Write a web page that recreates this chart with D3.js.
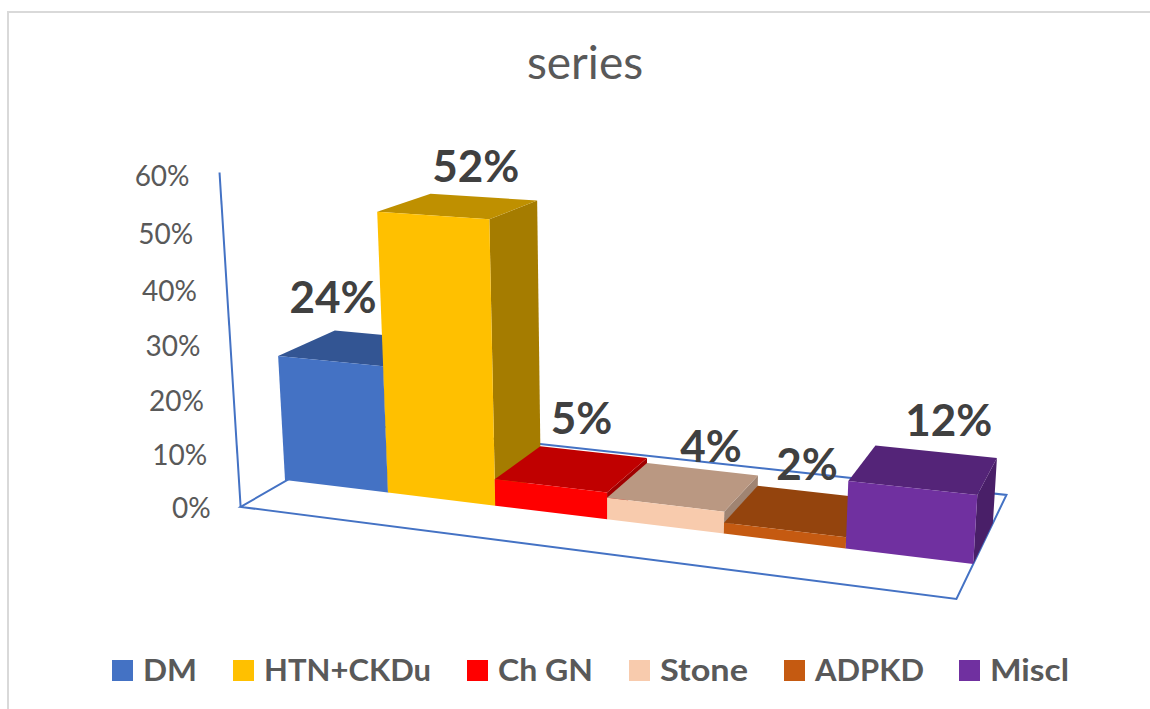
<!DOCTYPE html>
<html>
<head>
<meta charset="utf-8">
<script src="https://cdn.jsdelivr.net/npm/d3@7"></script>
<style>
  html, body { margin: 0; background: #fff; }
  svg { display: block; font-family: Lato, "Open Sans", sans-serif; }
</style>
</head>
<body>
<div id="chart"></div>
<script>
const categories = ['DM', 'HTN+CKDu', 'Ch GN', 'Stone', 'ADPKD', 'Miscl'];
const values = [0.24, 0.52, 0.05, 0.04, 0.02, 0.12];
const tickValues = [0, 0.1, 0.2, 0.3, 0.4, 0.5, 0.6];
const frontColors = ['#4472c4', '#ffc000', '#ff0000', '#f8cbad', '#c55a11', '#7030a0'];
const topColors = ['#335593', '#bf9000', '#c00000', '#ba9882', '#94440d', '#542478'];
const sideColors = ['#2b4a80', '#a57c00', '#a00000', '#a08472', '#7f3a0b', '#491f68'];

const width = 1150;
const height = 709;

const svg = d3.select('#chart').append('svg')
  .attr('width', width)
  .attr('height', height);

// the 3d box: category runs along u, depth along d, value along w
const uScale = d3.scaleBand().domain(categories).range([0, 6]);
const wScale = d3.scaleLinear().domain([0, 0.6]).range([0, 60]);
const floorFront = -0.76;
const floorBack = 1.77;
const floorLeft = 0.02;

// perspective projection, fitted by eye against the picture
function project(u, d, w) {
  const k = 1 - 0.02004 * u + 0.0581 * d - 0.00084 * w;
  return [
    (285 + 95.2 * u + 75 * d - 0.52 * w) / k,
    (480 + 2.7 * u - 5.6 * d - 5.47 * w) / k
  ];
}

const poly = d3.line();

// chart frame, only top and left are in the crop
svg.append('path')
  .attr('d', 'M8,' + height + 'V12H' + width)
  .attr('fill', 'none')
  .attr('stroke', '#d9d9d9')
  .attr('stroke-width', 2);

// title
svg.append('text')
  .attr('x', 585)
  .attr('y', 79)
  .attr('text-anchor', 'middle')
  .attr('font-size', 46)
  .attr('fill', '#595959')
  .text('series');

// floor and wall lines
const uMax = uScale.range()[1];
svg.append('path')
  .attr('d', poly([
    project(floorLeft, floorBack, 0),
    project(uMax, floorBack, 0),
    project(uMax, floorFront, 0),
    project(floorLeft, floorFront, 0),
    project(floorLeft, floorBack, 0)
  ]))
  .attr('fill', 'none')
  .attr('stroke', '#4472c4')
  .attr('stroke-width', 2);

svg.append('path')
  .attr('d', poly([
    project(floorLeft, floorFront, wScale(0)),
    project(floorLeft, floorFront, wScale(0.6))
  ]))
  .attr('fill', 'none')
  .attr('stroke', '#4472c4')
  .attr('stroke-width', 2);

// value tick labels follow the wall edge
svg.append('g')
  .selectAll('text')
  .data(tickValues)
  .join('text')
  .attr('x', (t) => project(floorLeft, floorFront, wScale(t))[0] - 30)
  .attr('y', (t) => project(floorLeft, floorFront, wScale(t))[1] + 11 + 2.5 * t / 0.6)
  .attr('text-anchor', 'end')
  .attr('font-size', 28)
  .attr('fill', '#595959')
  .text((t) => d3.format('.0%')(t));

// bars, left to right so the later ones paint over
const bars = svg.append('g')
  .selectAll('g')
  .data(categories)
  .join('g');

bars.each(function (c, i) {
  const g = d3.select(this);
  const u0 = uScale(c);
  const u1 = u0 + uScale.bandwidth();
  const w = wScale(values[i]);

  g.append('path')
    .attr('d', poly([project(u1, 0, 0), project(u1, 1, 0), project(u1, 1, w), project(u1, 0, w)]) + 'Z')
    .attr('fill', sideColors[i]);
  g.append('path')
    .attr('d', poly([project(u0, 0, w), project(u1, 0, w), project(u1, 1, w), project(u0, 1, w)]) + 'Z')
    .attr('fill', topColors[i]);
  g.append('path')
    .attr('d', poly([project(u0, 0, 0), project(u1, 0, 0), project(u1, 0, w), project(u0, 0, w)]) + 'Z')
    .attr('fill', frontColors[i]);
});

// data labels, excel nudges each one off the bar top
const labelNudge = [[-25, -34.6], [17, -24], [9.3, -34.4], [27, -24], [7, -30.6], [24.7, -33.3]];

svg.append('g')
  .selectAll('text')
  .data(categories)
  .join('text')
  .attr('x', (c, i) => project(uScale(c) + 0.5, 0.5, wScale(values[i]))[0] + labelNudge[i][0])
  .attr('y', (c, i) => project(uScale(c) + 0.5, 0.5, wScale(values[i]))[1] + labelNudge[i][1])
  .attr('text-anchor', 'middle')
  .attr('font-size', 44)
  .attr('font-weight', 700)
  .attr('fill', '#404040')
  .text((c, i) => d3.format('.0%')(values[i]));

// legend
const legendX = [112, 233, 467, 629, 784, 959];
const legendTextLength = [54, 167, 95, 88, 109, 79];
const legend = svg.append('g')
  .selectAll('g')
  .data(categories)
  .join('g')
  .attr('transform', (c, i) => 'translate(' + legendX[i] + ',660)');

legend.append('rect')
  .attr('width', 21)
  .attr('height', 21)
  .attr('fill', (c, i) => frontColors[i]);

legend.append('text')
  .attr('x', 31)
  .attr('y', 21)
  .attr('font-size', 31)
  .attr('font-weight', 700)
  .attr('fill', '#595959')
  .attr('textLength', (c, i) => legendTextLength[i])
  .attr('lengthAdjust', 'spacingAndGlyphs')
  .text((c) => c);
</script>
</body>
</html>
